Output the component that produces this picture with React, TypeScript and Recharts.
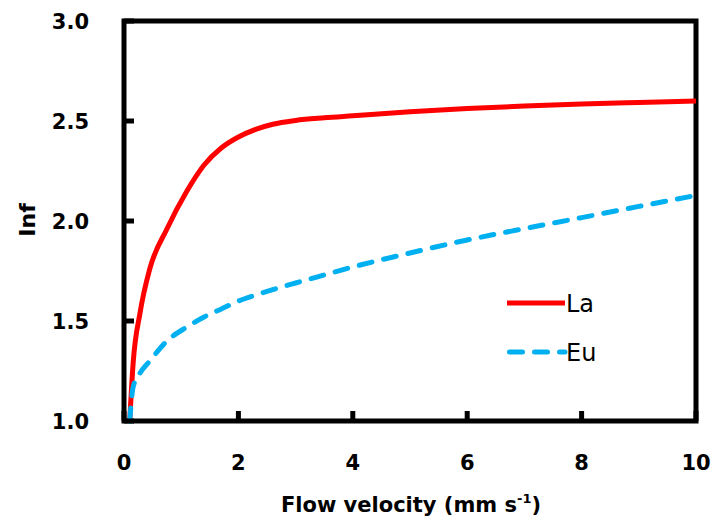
import React from 'react';
import { LineChart, Line, XAxis, YAxis, ReferenceArea, Legend, Label } from 'recharts';

// flow velocity (mm s-1) sampled along both curves
const velocity = [0.1, 0.16, 0.28, 0.45, 0.75, 1.1, 1.4, 1.7, 2.0, 2.3, 2.6, 3.0, 3.5, 4, 5, 6, 7, 8, 9, 10];
const infLa = [1.0, 1.29, 1.54, 1.76, 1.96, 2.15, 2.28, 2.365, 2.42, 2.458, 2.484, 2.503, 2.516, 2.526, 2.546, 2.562, 2.575, 2.585, 2.593, 2.6];
const infEu = [1.0, 1.17, 1.24, 1.3, 1.4, 1.47, 1.52, 1.56, 1.6, 1.63, 1.657, 1.69, 1.73, 1.77, 1.84, 1.905, 1.962, 2.017, 2.073, 2.128];

const xTicks = [0, 2, 4, 6, 8, 10];
const yTicks = [1, 1.5, 2, 2.5, 3];

const series = [
  { key: 'La', color: '#ff0000', dash: undefined },
  { key: 'Eu', color: '#00b0f0', dash: '13 12' },
];

const data = velocity.map((v, i) => ({ v, La: infLa[i], Eu: infEu[i] }));

const FONT = 'DejaVu Sans';

const XTick = (props: any) => {
  const { x, y, payload } = props;
  return (
    <g>
      <line x1={x} x2={x} y1={y} y2={y - 10} stroke="#000" strokeWidth={5} />
      <text x={x} y={y + 49} textAnchor="middle" fontFamily={FONT} fontWeight="bold" fontSize={21} fill="#000">
        {payload.value}
      </text>
    </g>
  );
};

const YTick = (props: any) => {
  const { x, y, payload } = props;
  return (
    <g>
      <line x1={x} x2={x + 10} y1={y} y2={y} stroke="#000" strokeWidth={5} />
      <text x={x - 35} y={y + 8} textAnchor="end" fontFamily={FONT} fontWeight="bold" fontSize={21} fill="#000">
        {Number(payload.value).toFixed(1)}
      </text>
    </g>
  );
};

const LegendBox = () => (
  <svg width={110} height={95}>
    {series.map((s, i) => {
      const ly = 23 + i * 49;
      return (
        <g key={s.key}>
          <line
            x1={s.dash ? 4.5 : 2}
            x2={60}
            y1={ly}
            y2={ly}
            stroke={s.color}
            strokeWidth={5}
            strokeDasharray={s.dash}
            strokeLinecap={s.dash ? 'round' : 'butt'}
          />
          <text x={61} y={ly + 9} fontFamily={FONT} fontSize={24} fill="#000">
            {s.key}
          </text>
        </g>
      );
    })}
  </svg>
);

export default function App() {
  return (
    <div style={{ position: 'absolute', left: 0, top: 0, background: '#fff' }}>
      <LineChart width={716} height={527} data={data} margin={{ top: 21, right: 20, bottom: 0, left: 0 }}>
        <XAxis
          dataKey="v"
          type="number"
          domain={[0, 10]}
          ticks={xTicks}
          axisLine={false}
          tickLine={false}
          tickSize={0}
          tickMargin={0}
          tick={<XTick />}
          height={106}
        >
          <Label
            content={() => (
              <text x={411} y={512} textAnchor="middle" fontFamily={FONT} fontWeight="bold" fontSize={21} fill="#000">
                Flow velocity (mm s
                <tspan fontSize={13} dy={-9}>-1</tspan>
                <tspan dy={9}>)</tspan>
              </text>
            )}
          />
        </XAxis>
        <YAxis
          type="number"
          domain={[1, 3]}
          ticks={yTicks}
          axisLine={false}
          tickLine={false}
          tickSize={0}
          tickMargin={0}
          tick={<YTick />}
          width={124}
        >
          <Label
            content={() => (
              <text
                x={35}
                y={220}
                textAnchor="middle"
                transform="rotate(-90 35 220)"
                fontFamily={FONT}
                fontWeight="bold"
                fontSize={22}
                fill="#000"
              >
                Inf
              </text>
            )}
          />
        </YAxis>
        <ReferenceArea x1={0} x2={10} y1={1} y2={3} fill="none" stroke="#000" strokeWidth={5} />
        {series.map((s) => (
          <Line
            key={s.key}
            type="monotone"
            dataKey={s.key}
            stroke={s.color}
            strokeWidth={5}
            strokeDasharray={s.dash}
            strokeLinecap={s.dash ? 'round' : 'butt'}
            dot={false}
            isAnimationActive={false}
          />
        ))}
        <Legend
          layout="horizontal"
          verticalAlign="middle"
          align="center"
          content={<LegendBox />}
          wrapperStyle={{ left: 505, top: 280, width: 110, height: 95 }}
        />
      </LineChart>
    </div>
  );
}
